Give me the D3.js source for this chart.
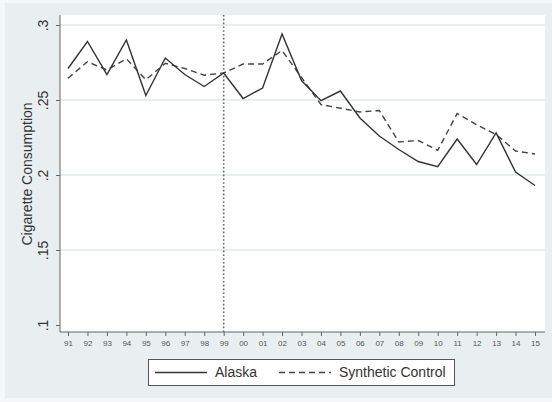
<!DOCTYPE html>
<html>
<head>
<meta charset="utf-8">
<script src="https://cdn.jsdelivr.net/npm/d3@7"></script>
<style>
  html, body { margin: 0; padding: 0; background: #f5f8f9; }
  svg { display: block; font-family: "Liberation Sans", Arial, sans-serif; }
</style>
</head>
<body>
<svg id="chart" width="552" height="402"></svg>
<script>
// Per-capita cigarette consumption, Alaska vs. its synthetic control
const years = [1991,1992,1993,1994,1995,1996,1997,1998,1999,2000,2001,2002,2003,
               2004,2005,2006,2007,2008,2009,2010,2011,2012,2013,2014,2015];
const alaska = [0.271,0.289,0.267,0.290,0.253,0.278,0.267,0.259,0.268,0.251,0.258,0.294,0.263,
                0.2495,0.256,0.238,0.226,0.217,0.209,0.2056,0.224,0.207,0.228,0.202,0.193];
const synthetic = [0.2645,0.2755,0.270,0.2775,0.2635,0.2745,0.271,0.2665,0.268,0.274,0.274,0.283,0.265,
                   0.247,0.2445,0.242,0.243,0.222,0.223,0.2165,0.241,0.2335,0.227,0.216,0.214];
const xTickLabels = ["91","92","93","94","95","96","97","98","99","00","01","02","03",
                     "04","05","06","07","08","09","10","11","12","13","14","15"];
const yTicks = [0.1, 0.15, 0.2, 0.25, 0.3];
const yTickLabels = [".1", ".15", ".2", ".25", ".3"];
const gridTicks = [0.15, 0.2, 0.25, 0.3];
const treatmentYear = 1999;
const seriesNames = ["Alaska", "Synthetic Control"];

const svg = d3.select("#chart");

// graph region
svg.append("rect").attr("x", 5).attr("y", 3).attr("width", 547).attr("height", 395)
   .attr("fill", "#e9eff1");

const plot = { left: 60, right: 545, top: 15, bottom: 332 };

svg.append("rect").attr("x", plot.left).attr("y", plot.top)
   .attr("width", plot.right - plot.left).attr("height", plot.bottom - plot.top)
   .attr("fill", "#ffffff");

const x = d3.scaleLinear().domain([1991, 2015]).range([68, 535]);
const y = d3.scaleLinear().domain([0.1, 0.3]).range([325, 25]);

// horizontal grid
svg.append("g").selectAll("line").data(gridTicks).join("line")
   .attr("x1", plot.left).attr("x2", plot.right)
   .attr("y1", d => y(d)).attr("y2", d => y(d))
   .attr("stroke", "#e2e8eb").attr("stroke-width", 1.5);

// y axis
const yAxis = d3.axisLeft(y).tickValues(yTicks)
   .tickFormat((d, i) => yTickLabels[i]).tickSize(4).tickPadding(3);
const gy = svg.append("g").attr("transform", `translate(${plot.left},0)`).call(yAxis);
gy.select(".domain").attr("d", `M0,${plot.top}V${plot.bottom}`).attr("stroke", "#666");
gy.selectAll(".tick line").attr("stroke", "#666");
gy.selectAll(".tick text")
  .attr("font-size", 14).attr("fill", "#333")
  .attr("transform", `rotate(-90,-11,0)`)
  .attr("x", -11).attr("y", 0).attr("dy", "-0.05em")
  .attr("text-anchor", "middle");

// x axis
const xAxis = d3.axisBottom(x).tickValues(years)
   .tickFormat((d, i) => xTickLabels[i]).tickSize(4).tickPadding(4);
const gx = svg.append("g").attr("transform", `translate(0,${plot.bottom})`).call(xAxis);
gx.select(".domain").attr("d", `M${plot.left},0H${plot.right}`).attr("stroke", "#666");
gx.selectAll(".tick line").attr("stroke", "#666");
gx.selectAll(".tick text").attr("font-size", 8).attr("fill", "#555");

// y axis title
svg.append("text")
   .attr("transform", `translate(27,174) rotate(-90)`)
   .attr("text-anchor", "middle").attr("dy", "0.35em")
   .attr("font-size", 14).attr("fill", "#333")
   .text("Cigarette Consumption");

// treatment year marker
svg.append("line")
   .attr("x1", x(treatmentYear)).attr("x2", x(treatmentYear))
   .attr("y1", plot.top).attr("y2", plot.bottom)
   .attr("stroke", "#666").attr("stroke-width", 1.6)
   .attr("stroke-dasharray", "1.6,2.2");

// series
const line = d3.line().x((d, i) => x(years[i])).y(d => y(d));
svg.append("path").datum(synthetic).attr("d", line)
   .attr("fill", "none").attr("stroke", "#444").attr("stroke-width", 1.4)
   .attr("stroke-dasharray", "6,4");
svg.append("path").datum(alaska).attr("d", line)
   .attr("fill", "none").attr("stroke", "#333").attr("stroke-width", 1.4);

// legend
const lg = svg.append("g");
lg.append("rect").attr("x", 148.5).attr("y", 359.5).attr("width", 306).attr("height", 26)
  .attr("fill", "#ffffff").attr("stroke", "#555").attr("stroke-width", 1);
lg.append("line").attr("x1", 155).attr("x2", 207).attr("y1", 372.5).attr("y2", 372.5)
  .attr("stroke", "#333").attr("stroke-width", 1.4);
lg.append("text").attr("x", 215).attr("y", 372.5).attr("dy", "0.35em")
  .attr("font-size", 14).attr("fill", "#333").text(seriesNames[0]);
lg.append("line").attr("x1", 279).attr("x2", 331).attr("y1", 372.5).attr("y2", 372.5)
  .attr("stroke", "#444").attr("stroke-width", 1.4).attr("stroke-dasharray", "6,4");
lg.append("text").attr("x", 339).attr("y", 372.5).attr("dy", "0.35em")
  .attr("font-size", 14).attr("fill", "#333").text(seriesNames[1]);
</script>
</body>
</html>
